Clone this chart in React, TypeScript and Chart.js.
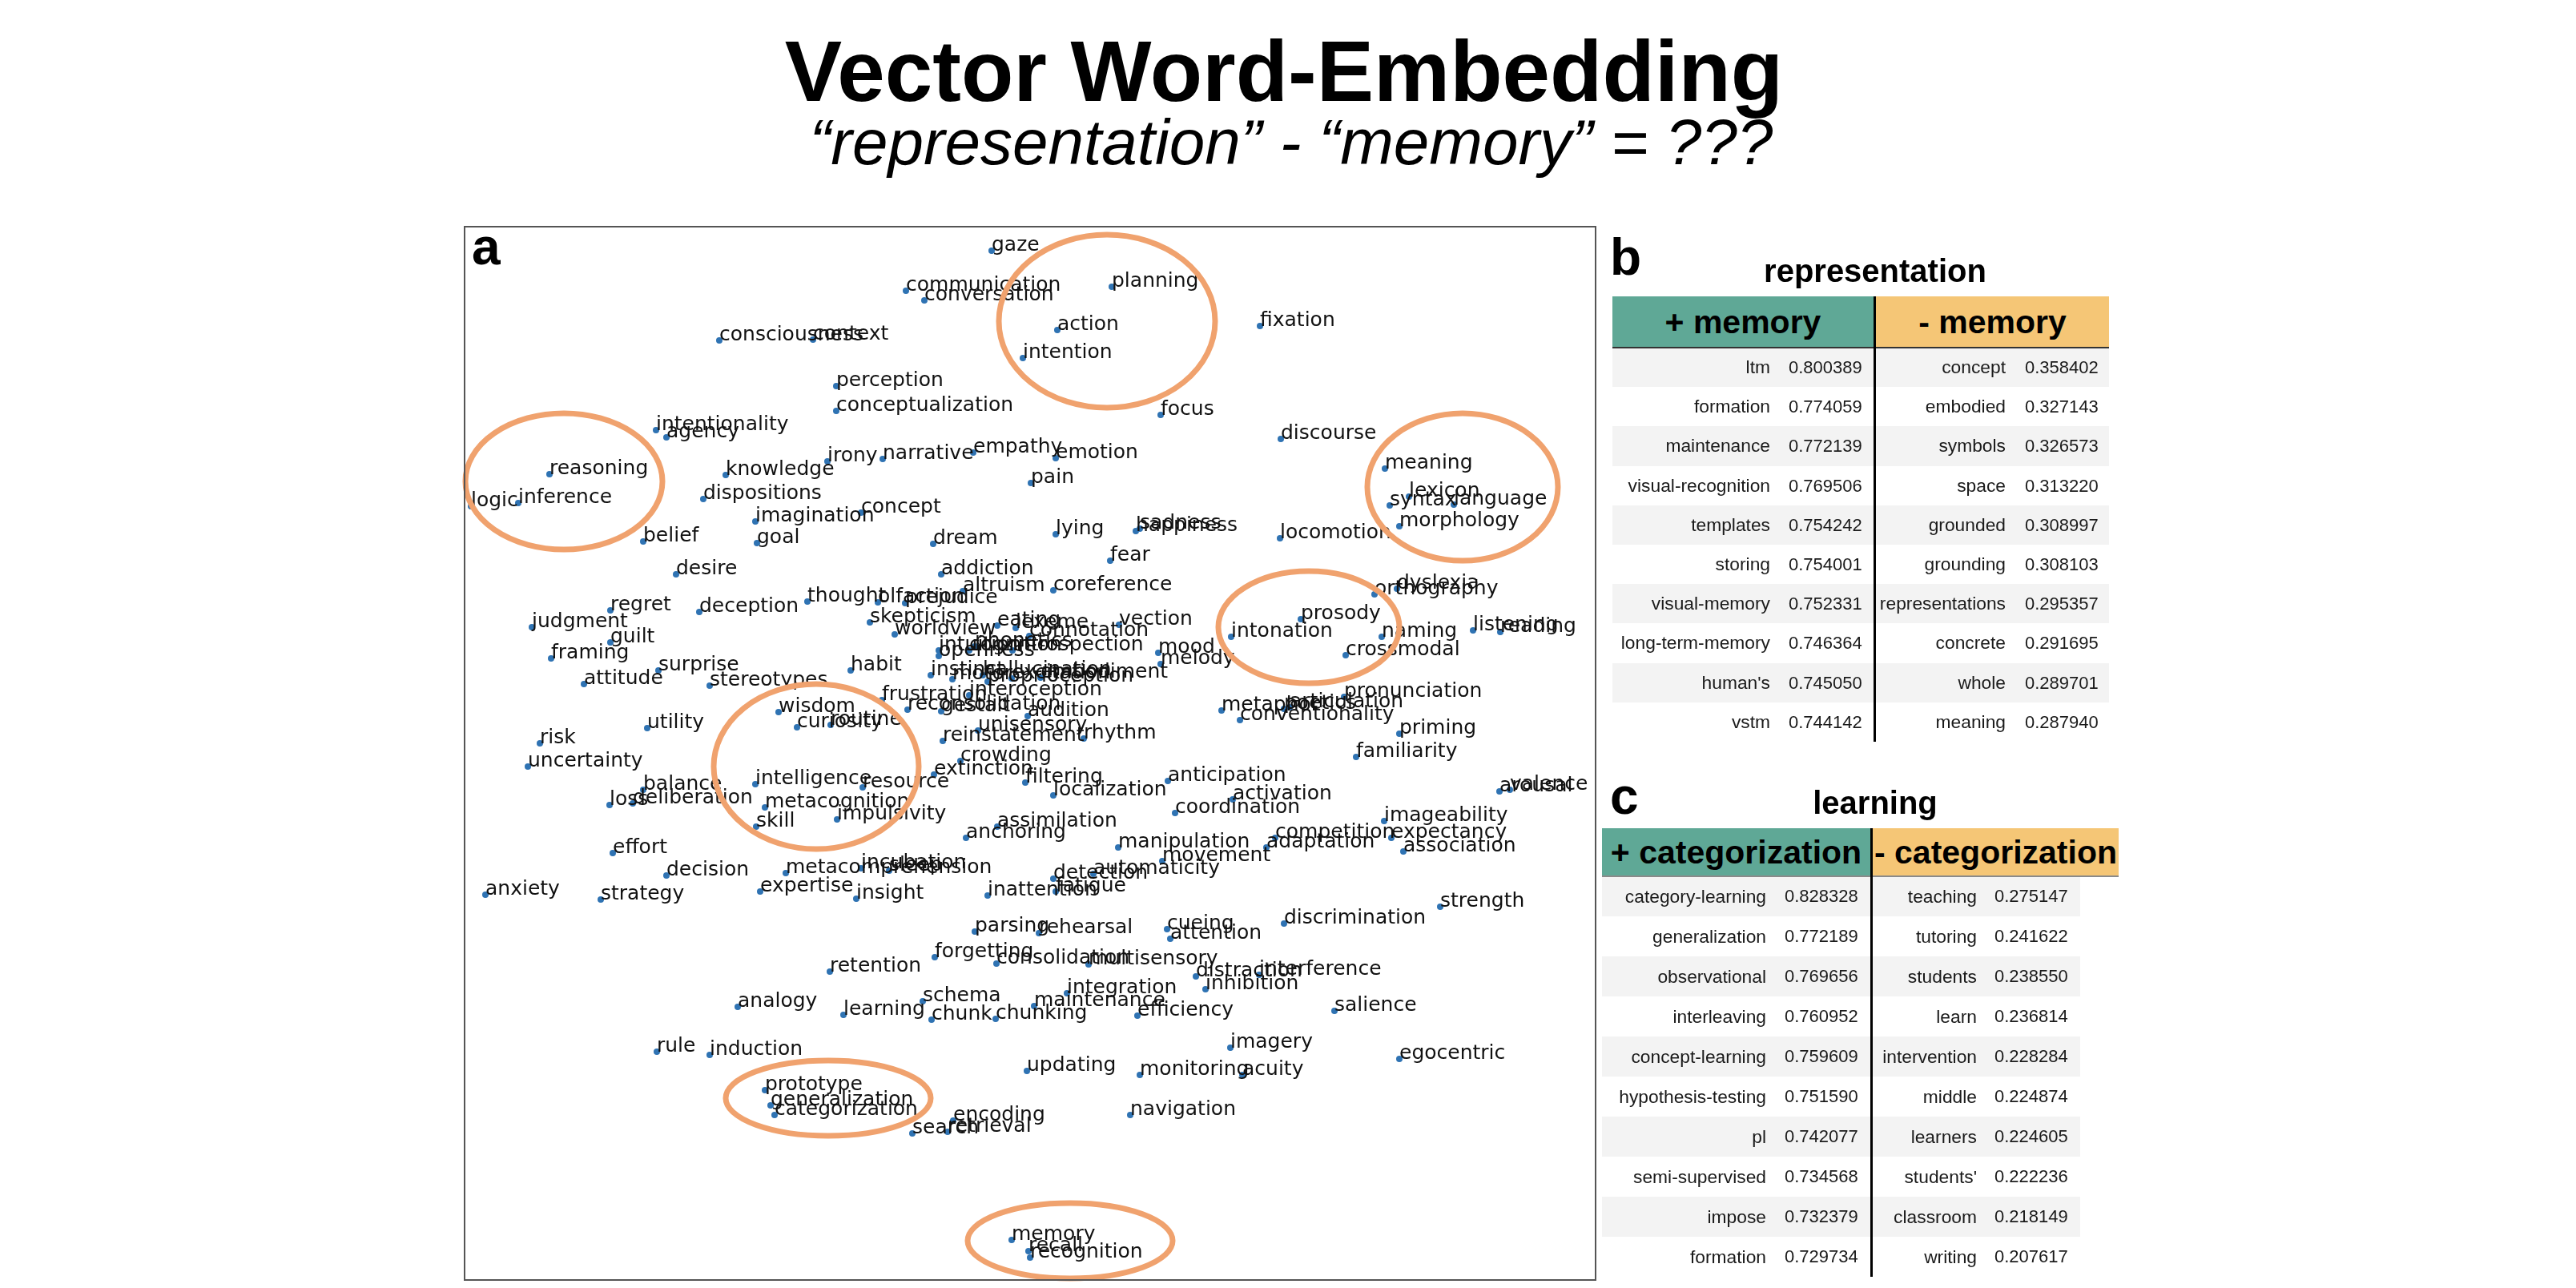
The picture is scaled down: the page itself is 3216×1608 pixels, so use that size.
import React, { useEffect, useRef } from 'react';
import { Chart, registerables } from 'chart.js';

Chart.register(...registerables);

// embedding coordinates (arbitrary t-SNE units, x: 0..141.2, y: 0..131.5)
const wordLabels = [
    'gaze', 'communication', 'conversation', 'planning', 'action', 'intention', 'fixation', 'consciousness', 'context', 'perception',
    'conceptualization', 'focus', 'intentionality', 'agency', 'discourse', 'irony', 'narrative', 'empathy', 'emotion', 'reasoning',
    'knowledge', 'meaning', 'logic', 'inference', 'dispositions', 'pain', 'lexicon', 'syntax', 'language', 'imagination',
    'concept', 'morphology', 'happiness', 'sadness', 'lying', 'locomotion', 'belief', 'goal', 'dream', 'fear',
    'desire', 'addiction', 'dyslexia', 'orthography', 'altruism', 'coreference', 'thought', 'olfaction', 'prejudice', 'regret',
    'deception', 'prosody', 'skepticism', 'eating', 'vection', 'lexeme', 'judgment', 'listening', 'reading', 'worldview',
    'connotation', 'intonation', 'naming', 'guilt', 'phonetics', 'introspection', 'intuition', 'cognition', 'mood', 'crossmodal',
    'openness', 'framing', 'melody', 'surprise', 'habit', 'instinct', 'hallucination', 'embodiment', 'motor', 'excitation',
    'proprioception', 'attitude', 'stereotypes', 'interoception', 'pronunciation', 'frustration', 'reconsolidation', 'gestalt', 'metaphor', 'poetics',
    'articulation', 'wisdom', 'audition', 'conventionality', 'curiosity', 'routine', 'utility', 'unisensory', 'priming', 'rhythm',
    'reinstatement', 'risk', 'familiarity', 'crowding', 'uncertainty', 'extinction', 'filtering', 'anticipation', 'intelligence', 'resource',
    'balance', 'valence', 'arousal', 'localization', 'activation', 'deliberation', 'loss', 'metacognition', 'coordination', 'impulsivity',
    'imageability', 'skill', 'assimilation', 'anchoring', 'competition', 'expectancy', 'manipulation', 'adaptation', 'association', 'effort',
    'movement', 'incubation', 'sleep', 'metacomprehension', 'automaticity', 'decision', 'detection', 'expertise', 'fatigue', 'anxiety',
    'inattention', 'insight', 'strategy', 'strength', 'discrimination', 'cueing', 'parsing', 'rehearsal', 'attention', 'forgetting',
    'consolidation', 'multisensory', 'retention', 'interference', 'distraction', 'inhibition', 'integration', 'schema', 'maintenance', 'analogy',
    'salience', 'learning', 'efficiency', 'chunking', 'chunk', 'imagery', 'rule', 'induction', 'egocentric', 'updating',
    'monitoring', 'acuity', 'prototype', 'generalization', 'navigation', 'categorization', 'encoding', 'retrieval', 'search', 'memory',
    'recall', 'recognition',
];

const wordX = [
    65.8, 55.1, 57.4, 80.8, 74.0, 69.7, 99.3, 31.8, 43.5, 46.4,
    46.4, 86.9, 23.9, 25.2, 101.9, 45.3, 52.2, 63.5, 73.8, 10.6,
    32.6, 114.9, 0.8, 6.7, 29.8, 70.7, 117.9, 115.5, 123.5, 36.3,
    49.5, 116.7, 83.8, 84.3, 73.8, 101.8, 22.3, 36.5, 58.5, 80.6,
    26.4, 59.5, 116.4, 113.6, 62.2, 73.5, 42.8, 51.6, 55.0, 18.2,
    29.3, 104.4, 50.6, 66.5, 81.7, 68.8, 8.4, 125.9, 129.3, 53.7,
    70.5, 95.7, 114.5, 18.2, 63.7, 68.4, 59.2, 63.0, 86.6, 110.0,
    59.2, 10.8, 86.9, 24.2, 48.2, 58.2, 64.7, 71.9, 60.9, 68.3,
    65.3, 14.9, 30.6, 63.0, 109.8, 52.1, 55.3, 59.5, 94.5, 102.3,
    103.0, 39.2, 70.3, 96.8, 41.5, 45.7, 22.8, 64.1, 116.7, 77.3,
    59.7, 9.4, 111.3, 61.9, 7.9, 58.6, 70.0, 87.8, 36.3, 49.7,
    22.3, 130.5, 129.2, 73.5, 95.9, 21.0, 18.1, 37.5, 88.7, 46.5,
    114.8, 36.4, 66.5, 62.6, 101.2, 115.7, 81.6, 100.1, 117.2, 18.5,
    87.1, 49.5, 53.0, 40.1, 78.5, 25.2, 73.5, 36.9, 73.8, 2.6,
    65.3, 48.9, 17.0, 121.8, 102.3, 87.7, 63.7, 71.7, 88.1, 58.7,
    66.4, 77.9, 45.6, 99.2, 91.3, 92.5, 75.2, 57.2, 71.1, 34.1,
    108.6, 47.3, 84.0, 66.3, 58.3, 95.6, 24.0, 30.6, 116.7, 70.2,
    84.3, 97.1, 37.5, 38.2, 83.1, 38.7, 61.0, 60.3, 55.9, 68.3,
    70.4, 70.6,
];

const wordY = [
    128.5, 123.5, 122.3, 124.0, 118.6, 115.1, 119.1, 117.3, 117.4, 111.6,
    108.5, 108.0, 106.1, 105.2, 105.0, 102.2, 102.5, 103.3, 102.6, 100.6,
    100.5, 101.3, 96.6, 97.0, 97.5, 99.5, 97.8, 96.7, 96.8, 94.7,
    95.8, 94.1, 93.5, 93.8, 93.1, 92.6, 92.2, 92.0, 91.9, 89.8,
    88.1, 88.1, 86.3, 85.6, 86.0, 86.1, 84.7, 84.6, 84.5, 83.6,
    83.4, 82.5, 82.1, 81.7, 81.8, 81.4, 81.5, 81.1, 80.9, 80.6,
    80.4, 80.3, 80.3, 79.6, 79.1, 78.6, 78.6, 78.6, 78.3, 78.0,
    77.9, 77.6, 76.9, 76.1, 76.1, 75.5, 75.5, 75.2, 75.0, 75.1,
    74.7, 74.4, 74.2, 73.0, 72.8, 72.4, 71.2, 71.0, 71.1, 71.3,
    71.5, 70.9, 70.4, 69.9, 69.0, 69.3, 68.9, 68.6, 68.2, 67.6,
    67.3, 67.0, 65.3, 64.8, 64.1, 63.1, 62.1, 62.3, 61.9, 61.5,
    61.2, 61.2, 61.0, 60.5, 60.0, 59.5, 59.3, 59.0, 58.3, 57.5,
    57.3, 56.6, 56.6, 55.2, 55.2, 55.2, 54.0, 54.0, 53.5, 53.3,
    52.3, 51.4, 51.1, 50.8, 50.7, 50.5, 50.1, 48.5, 48.5, 48.1,
    48.0, 47.6, 47.5, 46.6, 44.5, 43.8, 43.5, 43.3, 42.6, 40.3,
    39.5, 39.4, 38.5, 38.1, 37.9, 36.3, 35.8, 34.8, 34.2, 34.1,
    33.6, 33.1, 33.0, 32.6, 32.5, 29.0, 28.5, 28.1, 27.6, 26.1,
    25.6, 25.6, 23.7, 21.8, 20.6, 20.6, 19.9, 18.5, 18.3, 5.0,
    3.6, 2.8,
];

// highlighted clusters (same units as the embedding)
const circleX = [80.2, 12.4, 124.6, 105.4, 43.9, 45.4, 75.6];
const circleY = [119.7, 99.7, 99.0, 81.5, 64.1, 22.7, 4.9];
const circleRX = [13.5, 12.3, 11.9, 11.3, 12.8, 12.8, 12.8];
const circleRY = [10.8, 8.5, 9.2, 7.0, 10.3, 4.7, 4.7];

// table b: representation +/- memory
const memPlusWords = ['ltm', 'formation', 'maintenance', 'visual-recognition', 'templates', 'storing', 'visual-memory', 'long-term-memory', "human's", 'vstm'];
const memPlusScores = [0.800389, 0.774059, 0.772139, 0.769506, 0.754242, 0.754001, 0.752331, 0.746364, 0.745050, 0.744142];
const memMinusWords = ['concept', 'embodied', 'symbols', 'space', 'grounded', 'grounding', 'representations', 'concrete', 'whole', 'meaning'];
const memMinusScores = [0.358402, 0.327143, 0.326573, 0.313220, 0.308997, 0.308103, 0.295357, 0.291695, 0.289701, 0.287940];

// table c: learning +/- categorization
const catPlusWords = ['category-learning', 'generalization', 'observational', 'interleaving', 'concept-learning', 'hypothesis-testing', 'pl', 'semi-supervised', 'impose', 'formation'];
const catPlusScores = [0.828328, 0.772189, 0.769656, 0.760952, 0.759609, 0.751590, 0.742077, 0.734568, 0.732379, 0.729734];
const catMinusWords = ['teaching', 'tutoring', 'students', 'learn', 'intervention', 'middle', 'learners', "students'", 'classroom', 'writing'];
const catMinusScores = [0.275147, 0.241622, 0.238550, 0.236814, 0.228284, 0.224874, 0.224605, 0.222236, 0.218149, 0.207617];

const SANS = '"Liberation Sans", Arial, Helvetica, sans-serif';
const TEAL = '#5fa896';
const ORANGE = '#f5c676';

// page coords -> container coords (body margin)
const px = (v: number) => v - 8;

const embeddingPlugin = {
    id: 'embeddingLabels',
    afterDatasetsDraw(chart: any) {
        const { ctx, chartArea } = chart;
        const xs = chart.scales.x;
        const ys = chart.scales.y;
        ctx.save();
        ctx.font = '25px "DejaVu Sans"';
        ctx.fillStyle = '#111';
        ctx.textBaseline = 'alphabetic';
        ctx.textAlign = 'left';
        wordLabels.forEach((w, i) => {
            ctx.fillText(w, xs.getPixelForValue(wordX[i]), ys.getPixelForValue(wordY[i]));
        });

        ctx.strokeStyle = '#f0a26e';
        ctx.lineWidth = 7;
        circleX.forEach((cxv, i) => {
            const cx = xs.getPixelForValue(cxv);
            const cy = ys.getPixelForValue(circleY[i]);
            const rx = Math.abs(xs.getPixelForValue(cxv + circleRX[i]) - cx);
            const ry = Math.abs(ys.getPixelForValue(circleY[i] + circleRY[i]) - cy);
            ctx.beginPath();
            ctx.ellipse(cx, cy, rx, ry, 0, 0, Math.PI * 2);
            ctx.stroke();
        });

        ctx.strokeStyle = '#555';
        ctx.lineWidth = 2;
        ctx.strokeRect(chartArea.left, chartArea.top, chartArea.right - chartArea.left, chartArea.bottom - chartArea.top);
        ctx.restore();
    },
};

const EmbeddingChart: React.FC = () => {
    const chartRef = useRef<HTMLCanvasElement | null>(null);

    useEffect(() => {
        if (!chartRef.current) return;
        const ctx = chartRef.current.getContext('2d');
        if (!ctx) return;
        const chart = new Chart(ctx, {
            type: 'scatter',
            data: {
                datasets: [{
                    data: wordX.map((v, i) => ({ x: v, y: wordY[i] })),
                    backgroundColor: '#2f73b3',
                    borderWidth: 0,
                    pointRadius: 4,
                    clip: false,
                } as any],
            },
            options: {
                animation: false,
                responsive: true,
                maintainAspectRatio: false,
                events: [],
                layout: { padding: 4 },
                plugins: {
                    legend: { display: false },
                    tooltip: { enabled: false },
                },
                scales: {
                    x: { type: 'linear', display: false, min: 0, max: 141.2 },
                    y: { type: 'linear', display: false, min: 0, max: 131.5 },
                },
            },
            plugins: [embeddingPlugin],
        });
        return () => {
            chart.destroy();
        };
    }, []);

    return (
        <div style={{ position: 'absolute', left: px(576), top: px(279), width: 1420, height: 1323 }}>
            <canvas ref={chartRef}></canvas>
        </div>
    );
};

interface TableSpec {
    headerTop: number;
    headerH: number;
    rowTop: number;
    rowH: number;
    leftX: number;
    dividerX: number;
    rightEnd: number;
    shadeRightEnd: number;
    leftWordEnd: number;
    leftNumX: number;
    rightWordEnd: number;
    rightNumX: number;
    bottom: number;
    lineColor: string;
}

const WordTable: React.FC<{
    spec: TableSpec;
    plusTitle: string;
    minusTitle: string;
    plusWords: string[];
    plusScores: number[];
    minusWords: string[];
    minusScores: number[];
}> = ({ spec, plusTitle, minusTitle, plusWords, plusScores, minusWords, minusScores }) => {
    const s = spec;
    const cellText: React.CSSProperties = {
        position: 'absolute',
        fontFamily: SANS,
        fontSize: 22,
        color: '#1a1a1a',
        whiteSpace: 'nowrap',
        lineHeight: `${s.rowH}px`,
        height: s.rowH,
    };
    const wordText: React.CSSProperties = { ...cellText, fontSize: 22.8, width: 320, textAlign: 'right' };
    const headText: React.CSSProperties = {
        position: 'absolute',
        top: px(s.headerTop),
        height: s.headerH,
        lineHeight: `${s.headerH}px`,
        fontFamily: SANS,
        fontWeight: 'bold',
        fontSize: 41,
        color: '#000',
        textAlign: 'center',
        whiteSpace: 'nowrap',
        overflow: 'visible',
    };
    return (
        <>
            {plusWords.map((_, i) => i % 2 === 0 ? (
                <React.Fragment key={'shade' + i}>
                    <div style={{ position: 'absolute', left: px(s.leftX), top: px(s.rowTop + i * s.rowH), width: s.dividerX - s.leftX, height: s.rowH, background: '#f3f3f3' }} />
                    <div style={{ position: 'absolute', left: px(s.dividerX + 3), top: px(s.rowTop + i * s.rowH), width: s.shadeRightEnd - s.dividerX - 3, height: s.rowH, background: '#f3f3f3' }} />
                </React.Fragment>
            ) : null)}
            <div style={{ ...headText, left: px(s.leftX), width: s.dividerX - s.leftX, background: TEAL }}>{plusTitle}</div>
            <div style={{ ...headText, left: px(s.dividerX + 3), width: s.rightEnd - s.dividerX - 3, background: ORANGE }}>{minusTitle}</div>
            <div style={{ position: 'absolute', left: px(s.leftX), top: px(s.rowTop - 1), width: s.rightEnd - s.leftX, height: 2, background: s.lineColor }} />
            {plusWords.map((w, i) => (
                <React.Fragment key={'row' + i}>
                    <div style={{ ...wordText, left: px(s.leftWordEnd - 320), top: px(s.rowTop + i * s.rowH) }}>{w}</div>
                    <div style={{ ...cellText, left: px(s.leftNumX), top: px(s.rowTop + i * s.rowH) }}>{plusScores[i].toFixed(6)}</div>
                    <div style={{ ...wordText, left: px(s.rightWordEnd - 320), top: px(s.rowTop + i * s.rowH) }}>{minusWords[i]}</div>
                    <div style={{ ...cellText, left: px(s.rightNumX), top: px(s.rowTop + i * s.rowH) }}>{minusScores[i].toFixed(6)}</div>
                </React.Fragment>
            ))}
            <div style={{ position: 'absolute', left: px(s.dividerX), top: px(s.headerTop), width: 3, height: s.bottom - s.headerTop, background: '#000' }} />
        </>
    );
};

// single line of text placed by its baseline (Liberation Sans, line-height 1)
const Label: React.FC<{ text: string; left?: number; center?: number; baseline: number; size: number; bold?: boolean; italic?: boolean }> = ({ text, left, center, baseline, size, bold, italic }) => {
    const top = px(baseline - 0.8465 * size);
    const style: React.CSSProperties = {
        position: 'absolute',
        top,
        fontFamily: SANS,
        fontSize: size,
        lineHeight: 1,
        fontWeight: bold ? 'bold' : 'normal',
        fontStyle: italic ? 'italic' : 'normal',
        color: '#000',
        whiteSpace: 'nowrap',
    };
    if (center !== undefined) {
        return <div style={{ ...style, left: px(center - 1000), width: 2000, textAlign: 'center' }}>{text}</div>;
    }
    return <div style={{ ...style, left: px(left ?? 0) }}>{text}</div>;
};

const tableB: TableSpec = {
    headerTop: 370, headerH: 64, rowTop: 434, rowH: 49.2,
    leftX: 2013, dividerX: 2339, rightEnd: 2633, shadeRightEnd: 2633,
    leftWordEnd: 2210, leftNumX: 2233, rightWordEnd: 2504, rightNumX: 2528,
    bottom: 926, lineColor: '#333',
};

const tableC: TableSpec = {
    headerTop: 1034, headerH: 60, rowTop: 1094, rowH: 50,
    leftX: 2000, dividerX: 2335, rightEnd: 2645, shadeRightEnd: 2597,
    leftWordEnd: 2205, leftNumX: 2228, rightWordEnd: 2468, rightNumX: 2490,
    bottom: 1594, lineColor: '#8a8a8a',
};

const App: React.FC = () => {
    return (
        <div style={{ position: 'relative', width: 3200, height: 1592, background: '#fff', overflow: 'hidden' }}>
            <div style={{ position: 'absolute', left: px(580), top: px(1), width: 2645 - 580, height: 2, background: '#c8c8c8' }} />
            <Label text="Vector Word-Embedding" center={1603} baseline={127} size={107} bold />
            <Label text={'\u201Crepresentation\u201D - \u201Cmemory\u201D = ???'} center={1612} baseline={206} size={80} italic />

            <EmbeddingChart />
            <Label text="a" left={589} baseline={330} size={64} bold />

            <Label text="b" left={2010} baseline={343} size={64} bold />
            <Label text="representation" center={2341} baseline={352} size={40} bold />
            <WordTable spec={tableB} plusTitle="+ memory" minusTitle="- memory"
                plusWords={memPlusWords} plusScores={memPlusScores}
                minusWords={memMinusWords} minusScores={memMinusScores} />

            <Label text="c" left={2010} baseline={1016} size={64} bold />
            <Label text="learning" center={2341} baseline={1016} size={40} bold />
            <WordTable spec={tableC} plusTitle="+ categorization" minusTitle="- categorization"
                plusWords={catPlusWords} plusScores={catPlusScores}
                minusWords={catMinusWords} minusScores={catMinusScores} />
        </div>
    );
};

export default App;
